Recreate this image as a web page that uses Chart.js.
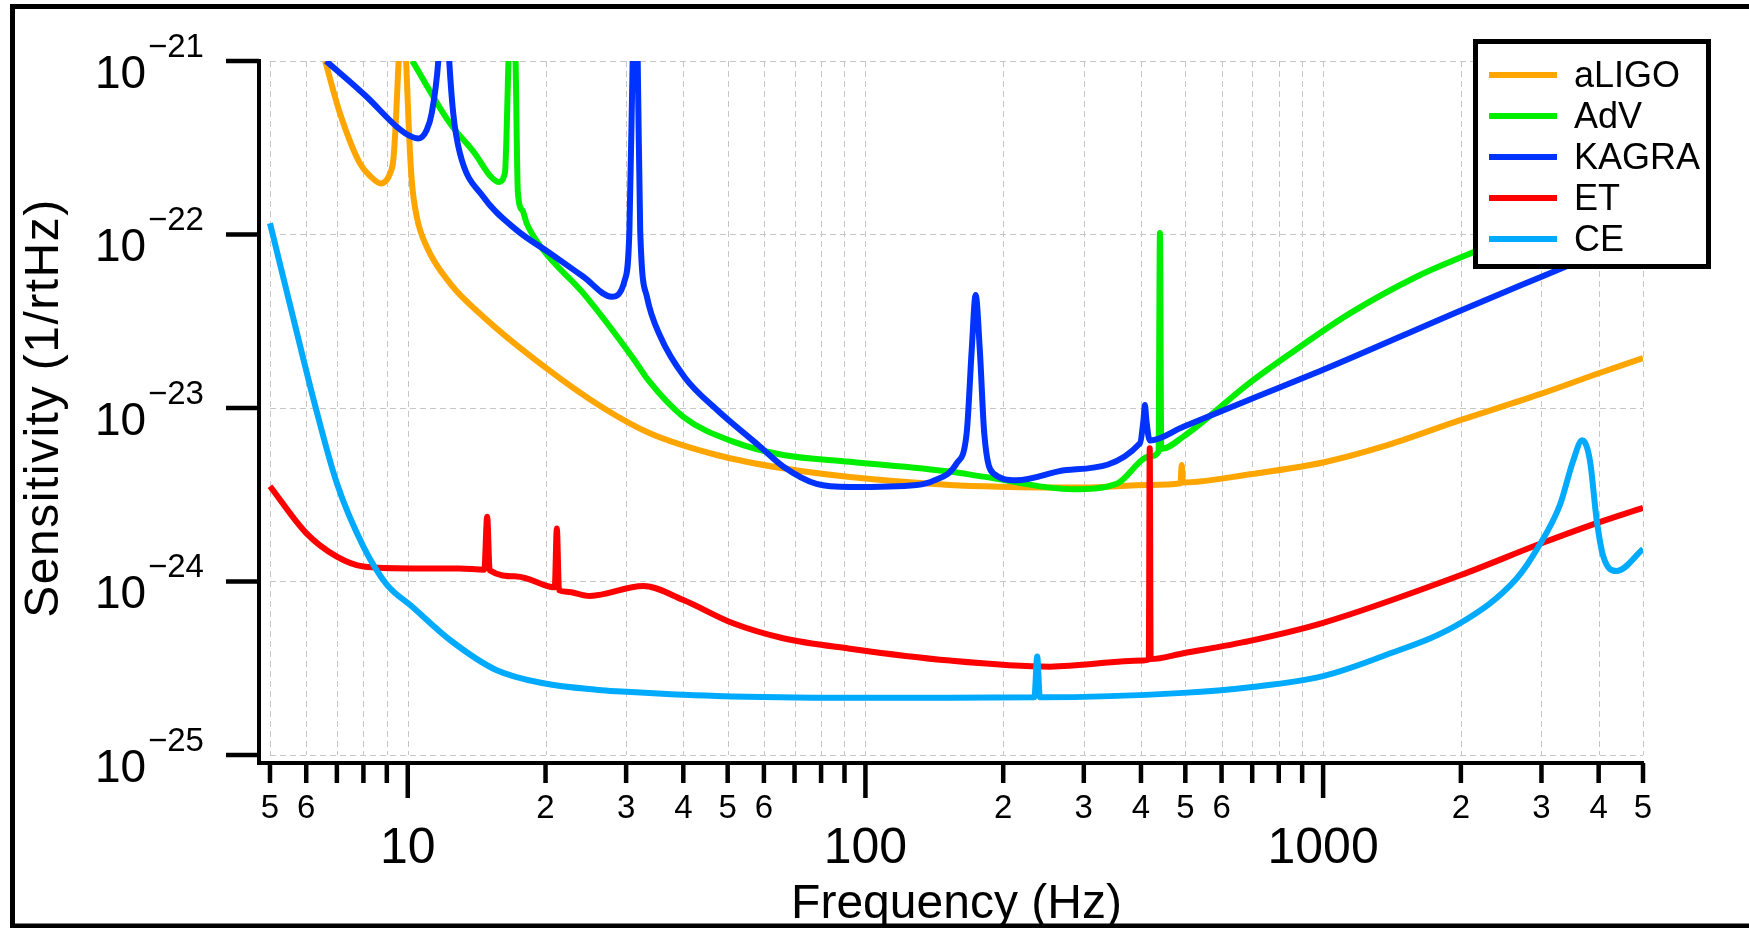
<!DOCTYPE html>
<html>
<head>
<meta charset="utf-8">
<title>Detector sensitivity curves</title>
<script src="https://cdn.jsdelivr.net/npm/chart.js@4.4.1/dist/chart.umd.min.js"></script>
<style>
  html, body { margin: 0; padding: 0; background: #fff; }
  canvas { display: block; }
</style>
</head>
<body>
<canvas id="sens" width="1749" height="928"></canvas>
<script>
// axis ticks
const freqTicks = [5, 6, 7, 8, 9, 10, 20, 30, 40, 50, 60, 70, 80, 90, 100, 200, 300, 400, 500, 600, 700, 800, 900, 1000, 2000, 3000, 4000, 5000];
const freqTickText = ['5', '6', '', '', '', '10', '2', '3', '4', '5', '6', '', '', '', '100', '2', '3', '4', '5', '6', '', '', '', '1000', '2', '3', '4', '5'];
const sensTicks = [1e-25, 1e-24, 1e-23, 1e-22, 1e-21];
const sensTickExp = ['\u221225', '\u221224', '\u221223', '\u221222', '\u221221'];

const seriesNames = ['aLIGO', 'AdV', 'KAGRA', 'ET', 'CE'];
const seriesColors = ['#ffa500', '#00ee00', '#0033ff', '#ff0000', '#00aaff'];

// aLIGO
const aligoFreq = [6.6, 7.11, 7.86, 8.31, 8.74, 9.15, 9.3, 9.42, 9.55, 9.72, 9.92, 10.05, 10.2, 10.46, 11.0, 12.37, 14.62, 19.77, 26.76, 33.8, 47.3, 66.1, 92.5, 153, 197, 299, 418, 488, 491, 494, 692, 1000, 1353, 2000, 3000, 3960, 5000];
const aligoSens = [1.0e-21, 5.0e-22, 2.57e-22, 2.15e-22, 1.97e-22, 2.25e-22, 2.7e-22, 4.5e-22, 1.0e-21, 4e-21, 1.0e-21, 4.2e-22, 2.06e-22, 1.27e-22, 8.5e-23, 5.23e-23, 3.36e-23, 1.75e-23, 1.0e-23, 7.15e-24, 5.36e-24, 4.49e-24, 4.0e-24, 3.6e-24, 3.52e-24, 3.48e-24, 3.6e-24, 3.68e-24, 4.7e-24, 3.72e-24, 4.15e-24, 4.85e-24, 6.0e-24, 8.53e-24, 1.21e-23, 1.57e-23, 1.94e-23];

// Advanced Virgo
const advFreq = [10.23, 12.37, 14.0, 15.2, 15.77, 16.3, 16.6, 16.87, 17.2, 17.4, 17.8, 18.19, 19.77, 24.2, 31.1, 33.5, 40.0, 51.4, 66.1, 92.5, 153, 181, 284.6, 354, 418, 437, 440, 443, 495, 692, 846, 1144, 1600, 2059, 2300];
const advSens = [1.0e-21, 4.37e-22, 2.94e-22, 2.15e-22, 2.01e-22, 2.25e-22, 1.0e-21, 4e-21, 1.0e-21, 1.75e-22, 1.38e-22, 1.16e-22, 8.14e-23, 4.58e-23, 1.93e-23, 1.45e-23, 8.9e-24, 6.4e-24, 5.36e-24, 4.9e-24, 4.3e-24, 4.02e-24, 3.4e-24, 3.66e-24, 5.25e-24, 5.6e-24, 1.02e-22, 5.8e-24, 6.84e-24, 1.4e-23, 2.05e-23, 3.51e-23, 5.71e-23, 7.62e-23, 8.6e-23];

// KAGRA
const kagraFreq = [6.63, 8.13, 9.46, 10.1, 10.55, 11.0, 11.28, 11.66, 12.0, 12.32, 12.57, 13.0, 14.62, 17.3, 20.46, 24.2, 27.9, 29.8, 30.5, 31.0, 31.4, 31.8, 32.2, 33.3, 35.6, 40.3, 47.3, 58.8, 66.1, 78.2, 92.5, 129.4, 140.6, 158.3, 166.4, 170.7, 174.1, 177.8, 181.8, 190.2, 213.9, 275.2, 398, 405, 408, 411, 418, 495, 692, 1000, 2000, 3000, 5000];
const kagraSens = [1.0e-21, 6.22e-22, 4.18e-22, 3.7e-22, 3.58e-22, 4.0e-22, 5.0e-22, 1.0e-21, 4e-21, 1.0e-21, 5.0e-22, 2.94e-22, 1.65e-22, 1.06e-22, 7.8e-23, 5.71e-23, 4.38e-23, 5.47e-23, 1.06e-22, 1.0e-21, 5e-21, 1.0e-21, 1.06e-22, 4.38e-23, 2.6e-23, 1.5e-23, 9.8e-24, 6.0e-24, 4.6e-24, 3.65e-24, 3.5e-24, 3.6e-24, 3.8e-24, 4.8e-24, 7.15e-24, 2.16e-23, 4.48e-23, 2.16e-23, 7.15e-24, 4.2e-24, 3.83e-24, 4.39e-24, 6.26e-24, 8.5e-24, 1.04e-23, 8.5e-24, 6.5e-24, 7.8e-24, 1.12e-23, 1.66e-23, 3.65e-23, 5.71e-23, 1.0e-22];

// Einstein Telescope
const etFreq = [5, 6, 7, 8, 10.2, 12.95, 14.7, 14.91, 15.1, 17.3, 20.46, 20.95, 21.17, 21.4, 22.24, 25.0, 32.7, 40, 51.4, 66.1, 92.5, 153, 253, 404.6, 416, 418, 420, 495, 692, 1000, 2000, 3000, 3960, 5000];
const etSens = [3.54e-24, 1.9e-24, 1.39e-24, 1.22e-24, 1.19e-24, 1.19e-24, 1.17e-24, 2.36e-24, 1.16e-24, 1.07e-24, 9.33e-25, 9.25e-25, 2.02e-24, 8.9e-25, 8.73e-25, 8.25e-25, 9.42e-25, 7.82e-25, 5.74e-25, 4.71e-25, 4.1e-25, 3.5e-25, 3.23e-25, 3.5e-25, 3.55e-25, 5.86e-24, 3.57e-25, 3.86e-25, 4.55e-25, 5.78e-25, 1.09e-24, 1.66e-24, 2.17e-24, 2.66e-24];

// Cosmic Explorer
const ceFreq = [5, 5.91, 6.23, 7.0, 8.0, 9.0, 10.2, 12.37, 15.6, 19.8, 26.1, 28.6, 47.3, 92.5, 153, 234, 237.3, 240.5, 495, 692, 1000, 1353, 2000, 2648, 2965, 3293, 3519, 3682, 3829, 3960, 4093, 4380, 5000];
const ceSens = [1.16e-22, 1.93e-23, 1.11e-23, 3.68e-24, 1.59e-24, 9.6e-25, 7.2e-25, 4.6e-25, 3.09e-25, 2.59e-25, 2.37e-25, 2.33e-25, 2.19e-25, 2.14e-25, 2.14e-25, 2.15e-25, 3.69e-25, 2.15e-25, 2.28e-25, 2.46e-25, 2.85e-25, 3.72e-25, 5.78e-25, 1.04e-24, 1.61e-24, 2.77e-24, 4.97e-24, 6.51e-24, 4.97e-24, 2.27e-24, 1.4e-24, 1.15e-24, 1.54e-24];

const FONT = '"Liberation Sans", Arial, sans-serif';
const LINE_W = 6;

function pairs(f, s) { return f.map((v, i) => ({ x: v, y: s[i] })); }
function isDecade(v) { const l = Math.log10(v); return Math.abs(l - Math.round(l)) < 1e-9; }

const allSeries = [
  [aligoFreq, aligoSens], [advFreq, advSens], [kagraFreq, kagraSens], [etFreq, etSens], [ceFreq, ceSens]
];

const datasets = allSeries.map(([f, s], i) => ({
  label: seriesNames[i],
  data: pairs(f, s),
  borderColor: seriesColors[i],
  backgroundColor: seriesColors[i],
  borderWidth: LINE_W,
  borderJoinStyle: 'round',
  cubicInterpolationMode: 'monotone',
  pointRadius: 0,
  fill: false,
  order: allSeries.length - i,
  clip: 0
}));

// grid, ticks, tick labels, axis titles, legend and the outer frame
const decor = {
  id: 'decor',
  beforeDatasetsDraw(chart) {
    const { ctx, scales: { x, y } } = chart;
    const xa = x.getPixelForValue(freqTicks[0]), xb = x.getPixelForValue(freqTicks[freqTicks.length - 1]);
    const ya = y.getPixelForValue(sensTicks[0]), yb = y.getPixelForValue(sensTicks[sensTicks.length - 1]);
    ctx.save();
    ctx.strokeStyle = '#c6c6c6';
    ctx.lineWidth = 1;
    ctx.setLineDash([6, 4]);
    ctx.beginPath();
    freqTicks.forEach(v => {
      const px = Math.round(x.getPixelForValue(v)) + 0.5;
      ctx.moveTo(px, yb); ctx.lineTo(px, ya);
    });
    sensTicks.forEach(v => {
      const py = Math.round(y.getPixelForValue(v)) + 0.5;
      ctx.moveTo(xa, py); ctx.lineTo(xb, py);
    });
    ctx.stroke();
    ctx.restore();
  },
  afterDraw(chart) {
    const { ctx, chartArea, scales: { x, y } } = chart;
    const axisY = chartArea.bottom, axisX = chartArea.left;
    ctx.save();

    // tick marks
    ctx.strokeStyle = '#000';
    ctx.lineWidth = 4.5;
    ctx.lineCap = 'butt';
    ctx.beginPath();
    freqTicks.forEach(v => {
      const px = x.getPixelForValue(v);
      ctx.moveTo(px, axisY); ctx.lineTo(px, axisY + (isDecade(v) ? 35 : 20));
    });
    sensTicks.forEach(v => {
      const py = y.getPixelForValue(v);
      ctx.moveTo(axisX - 33, py); ctx.lineTo(axisX, py);
    });
    ctx.stroke();

    // x tick labels: digits on the first row, decades on the second
    ctx.fillStyle = '#000';
    ctx.textAlign = 'center';
    ctx.textBaseline = 'alphabetic';
    freqTicks.forEach((v, i) => {
      const t = freqTickText[i];
      if (!t) return;
      const px = x.getPixelForValue(v);
      if (isDecade(v)) {
        ctx.font = `50px ${FONT}`;
        ctx.fillText(t, px, axisY + 100);
      } else {
        ctx.font = `33px ${FONT}`;
        ctx.fillText(t, px, axisY + 55);
      }
    });

    // y tick labels: 10 with exponent
    ctx.textAlign = 'left';
    sensTicks.forEach((v, i) => {
      const py = y.getPixelForValue(v);
      ctx.font = `46px ${FONT}`;
      ctx.fillText('10', axisX - 164, py + 27);
      ctx.font = `33px ${FONT}`;
      ctx.fillText(sensTickExp[i], axisX - 111, py - 4);
    });

    // axis titles
    const xa = x.getPixelForValue(freqTicks[0]), xb = x.getPixelForValue(freqTicks[freqTicks.length - 1]);
    const ya = y.getPixelForValue(sensTicks[0]), yb = y.getPixelForValue(sensTicks[sensTicks.length - 1]);
    ctx.textAlign = 'center';
    ctx.font = `48px ${FONT}`;
    ctx.fillText('Frequency (Hz)', (xa + xb) / 2, 918);
    ctx.save();
    ctx.translate(58, (ya + yb) / 2);
    ctx.rotate(-Math.PI / 2);
    ctx.letterSpacing = '1.5px';
    ctx.fillText('Sensitivity (1/rtHz)', 0, 0);
    ctx.restore();

    // legend box
    const lx = 1473, ly = 39, lw = 238, lh = 230;
    ctx.fillStyle = '#fff';
    ctx.fillRect(lx, ly, lw, lh);
    ctx.strokeStyle = '#000';
    ctx.lineWidth = 5;
    ctx.strokeRect(lx + 2.5, ly + 2.5, lw - 5, lh - 5);
    ctx.font = `36px ${FONT}`;
    ctx.textAlign = 'left';
    chart.data.datasets.forEach((ds, i) => {
      const ry = 75 + i * 41;
      ctx.strokeStyle = ds.borderColor;
      ctx.lineWidth = 6;
      ctx.beginPath();
      ctx.moveTo(1489, ry); ctx.lineTo(1557, ry);
      ctx.stroke();
      ctx.fillStyle = '#000';
      ctx.fillText(ds.label, 1574, ry + 12);
    });

    // outer frame (open on the right)
    ctx.strokeStyle = '#000';
    ctx.lineWidth = 5;
    ctx.strokeRect(12.5, 6.5, 1800, 919.5);
    ctx.restore();
  }
};

new Chart(document.getElementById('sens'), {
  type: 'line',
  data: { datasets },
  options: {
    responsive: false,
    animation: false,
    layout: { padding: { left: 0, top: 61, right: 106, bottom: 0 } },
    plugins: { legend: { display: false }, tooltip: { enabled: false } },
    scales: {
      x: {
        type: 'logarithmic', min: 4.731, max: 5000,
        afterBuildTicks: s => { s.ticks = freqTicks.map(v => ({ value: v })); },
        afterFit: s => { s.height = 165; },
        ticks: { display: false },
        grid: { display: false },
        border: { display: true, color: '#000', width: 4 }
      },
      y: {
        type: 'logarithmic', min: 8.99e-26, max: 1e-21,
        afterBuildTicks: s => { s.ticks = sensTicks.map(v => ({ value: v })); },
        afterFit: s => { s.width = 259; },
        ticks: { display: false },
        grid: { display: false },
        border: { display: true, color: '#000', width: 4 }
      }
    }
  },
  plugins: [decor]
});
</script>
</body>
</html>
